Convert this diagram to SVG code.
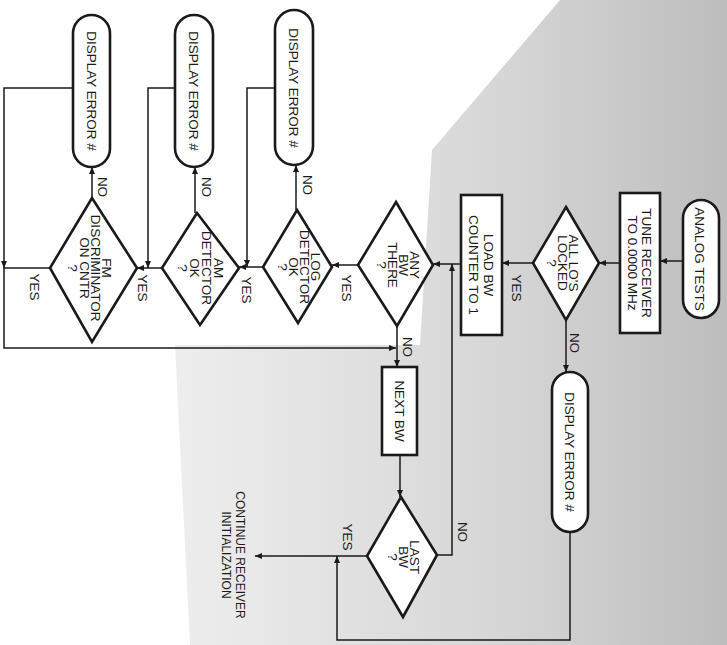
<svg xmlns="http://www.w3.org/2000/svg" width="727" height="645" viewBox="0 0 727 645">
<defs>
<linearGradient id="bg" gradientUnits="userSpaceOnUse" x1="170" y1="0" x2="727" y2="0">
<stop offset="0" stop-color="#eeeeee"/>
<stop offset="0.6" stop-color="#d6d6d6"/>
<stop offset="1" stop-color="#bdbdbd"/>
</linearGradient>
<marker id="ah" markerUnits="userSpaceOnUse" markerWidth="8" markerHeight="8" refX="7" refY="3" orient="auto">
<path d="M0,0 L7,3 L0,6 z" fill="#1a1a1a"/>
</marker>
</defs>
<style>
.shape{fill:#fff;stroke:#1a1a1a;stroke-width:2.6}
.con{fill:none;stroke:#1a1a1a;stroke-width:1.5;marker-end:url(#ah)}
text{font-family:"Liberation Sans",Arial,sans-serif;font-size:13.5px;fill:#1a1a1a;text-anchor:middle}
.small{font-size:12px}
</style>
<rect width="727" height="645" fill="#fff"/>
<polygon points="560,0 727,0 727,645 190,645 175,345 420,345 432,150" fill="url(#bg)"/>

<g id="connectors">
<path class="con" d="M683,261 H660"/>
<path class="con" d="M620,263 H599"/>
<path class="con" d="M533,263 H502"/>
<path class="con" d="M461,264 H433"/>
<path class="con" d="M358,265 H332"/>
<path class="con" d="M263,267 H239"/>
<path class="con" d="M162,268 H137"/>
<path class="con" d="M50,268 H4 V348 H396"/>
<path class="con" d="M73,88 H4 V268"/>
<path class="con" d="M175,88 H148 V268"/>
<path class="con" d="M275,88 H247 V267"/>
<path class="con" d="M92,198 V167"/>
<path class="con" d="M195,213 V167"/>
<path class="con" d="M296,210 V165"/>
<path class="con" d="M397,326 V367"/>
<path class="con" d="M400,455 V497"/>
<path class="con" d="M437,555 H452 V264"/>
<path class="con" d="M367,556 H255"/>
<path class="con" d="M566,320 V372"/>
<path class="con" d="M570,532 V640 H337 V556"/>
<g id="labels">
<text transform="translate(517,288) rotate(90)" y="4.7">YES</text>
<text transform="translate(575,343) rotate(90)" y="4.7">NO</text>
<text transform="translate(347,288) rotate(90)" y="4.7">YES</text>
<text transform="translate(247,290) rotate(90)" y="4.7">YES</text>
<text transform="translate(143,288) rotate(90)" y="4.7">YES</text>
<text transform="translate(35,287) rotate(90)" y="4.7">YES</text>
<text transform="translate(103,187) rotate(90)" y="4.7">NO</text>
<text transform="translate(207,187) rotate(90)" y="4.7">NO</text>
<text transform="translate(308,185) rotate(90)" y="4.7">NO</text>
<text transform="translate(408,347) rotate(90)" y="4.7">NO</text>
<text transform="translate(463,532) rotate(90)" y="4.7">NO</text>
<text transform="translate(348,537) rotate(90)" y="4.7">YES</text>
</g>
</g>

<g id="analog_tests">
<rect class="shape" x="683" y="200" width="36" height="118" rx="18"/>
<text transform="translate(700,259) rotate(90)" y="4.7">ANALOG TESTS</text>
</g>

<g id="tune_receiver">
<rect class="shape" x="620" y="193" width="40" height="140"/>
<g transform="translate(640,263) rotate(90)">
<text y="-2.3">TUNE RECEIVER</text>
<text y="11.7">TO 0.0000 MHz</text>
</g>
</g>

<g id="all_los_locked">
<polygon class="shape" points="566,207 599,263 566,320 533,263"/>
<g transform="translate(563,263) rotate(90)">
<text y="-6.3">ALL LO'S</text>
<text y="4.7">LOCKED</text>
<text y="15.7">?</text>
</g>
</g>

<g id="display_error_lo">
<rect class="shape" x="552" y="372" width="36" height="160" rx="18"/>
<text transform="translate(570,452) rotate(90)" y="4.7">DISPLAY ERROR #</text>
</g>

<g id="load_bw_counter">
<rect class="shape" x="461" y="195" width="41" height="140"/>
<g transform="translate(481.5,265) rotate(90)">
<text y="-2.8">LOAD BW</text>
<text y="12.2">COUNTER TO 1</text>
</g>
</g>

<g id="any_bw_there">
<polygon class="shape" points="396,202 433,265 397,326 358,265"/>
<g transform="translate(398,265) rotate(90)">
<text y="-11.8">ANY</text>
<text y="-0.8">BW</text>
<text y="10.2">THERE</text>
<text y="21.2">?</text>
</g>
</g>

<g id="next_bw">
<rect class="shape" x="382" y="367" width="35" height="88"/>
<text transform="translate(399.5,411) rotate(90)" y="4.7">NEXT BW</text>
</g>

<g id="last_bw">
<polygon class="shape" points="401,497 437,555 403,617 367,556"/>
<g transform="translate(404,557) rotate(90)">
<text y="-6.3">LAST</text>
<text y="4.7">BW</text>
<text y="15.7">?</text>
</g>
</g>

<g id="continue_init">
<g transform="translate(233,555) rotate(90)">
<text class="small" y="-2.8">CONTINUE RECEIVER</text>
<text class="small" y="11.2">INITIALIZATION</text>
</g>
</g>

<g id="log_detector_ok">
<polygon class="shape" points="297,210 332,267 298,323 263,267"/>
<g transform="translate(299,267) rotate(90)">
<text y="-11.8">LOG</text>
<text y="-0.8">DETECTOR</text>
<text y="10.2">OK</text>
<text y="21.2">?</text>
</g>
</g>

<g id="display_error_log">
<rect class="shape" x="275" y="10" width="38" height="155" rx="19"/>
<text transform="translate(294,88) rotate(90)" y="4.7">DISPLAY ERROR #</text>
</g>

<g id="am_detector_ok">
<polygon class="shape" points="197,213 239,268 200,325 162,268"/>
<g transform="translate(201,268) rotate(90)">
<text y="-13.3">AM</text>
<text y="-1.3">DETECTOR</text>
<text y="10.7">OK</text>
<text y="22.7">?</text>
</g>
</g>

<g id="display_error_am">
<rect class="shape" x="175" y="15" width="38" height="152" rx="19"/>
<text transform="translate(194,91) rotate(90)" y="4.7">DISPLAY ERROR #</text>
</g>

<g id="fm_discriminator">
<polygon class="shape" points="92,198 137,268 92,342 50,268"/>
<g transform="translate(90,268) rotate(90)">
<text y="-12.2">FM</text>
<text y="-0.9">DISCRIMINATOR</text>
<text y="10.4">ON CNTR</text>
<text y="21.7">?</text>
</g>
</g>

<g id="display_error_fm">
<rect class="shape" x="73" y="15" width="37" height="152" rx="18.5"/>
<text transform="translate(91.5,91) rotate(90)" y="4.7">DISPLAY ERROR #</text>
</g>
</svg>
